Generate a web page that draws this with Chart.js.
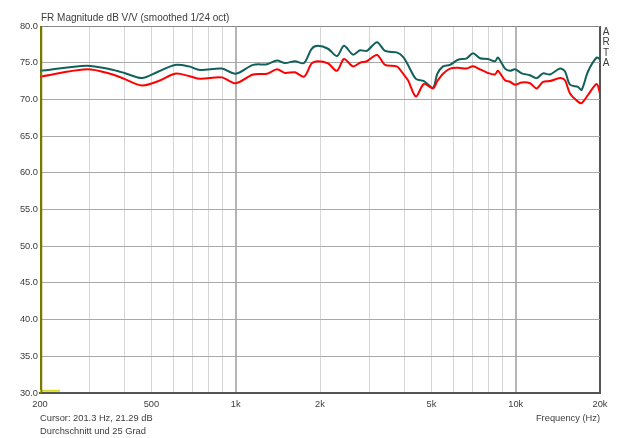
<!DOCTYPE html>
<html>
<head>
<meta charset="utf-8">
<script src="https://cdn.jsdelivr.net/npm/chart.js@4/dist/chart.umd.min.js"></script>
<style>
  html, body { margin: 0; padding: 0; background: #ffffff; overflow: hidden; }
  #wrap { width: 640px; height: 438px; position: relative; }
</style>
</head>
<body>
<div id="wrap"><canvas id="fr" width="640" height="438"></canvas></div>
<script>
const freqs = [200, 294, 356, 400, 462, 530, 607, 680, 746, 891, 1000, 1153, 1293, 1404, 1500, 1628, 1754, 1868, 1967,
  2136, 2300, 2436, 2624, 2780, 2938, 3196, 3414, 3758, 3960, 4124, 4400, 4700, 5066, 5250, 5500, 5825, 6222, 6682,
  7038, 7456, 7962, 8434, 8644, 9158, 9542, 9942, 10506, 11246, 11880, 12516, 13256, 14394, 14998, 15630, 16688,
  17200, 18120, 19460, 20000];
// Upper (teal) trace, dB
const tealDb = [73.9, 74.6, 74.1, 73.6, 72.9, 73.8, 74.7, 74.5, 74.0, 74.2, 73.5, 74.7, 74.8, 75.3, 74.95, 75.2, 74.95, 76.9, 77.3,
  76.9, 75.9, 77.3, 76.1, 76.7, 76.6, 77.8, 76.6, 76.4, 75.8, 74.7, 72.8, 72.5, 71.6, 73.5, 74.5, 74.7, 75.4, 75.6,
  76.3, 75.6, 75.5, 75.2, 75.7, 74.2, 73.9, 74.1, 73.55, 73.3, 72.9, 73.55, 73.4, 74.2, 73.8, 72.0, 71.7,
  71.3, 73.8, 75.7, 75.5];
// Lower (red) trace, dB
const redDb = [73.1, 74.1, 73.5, 72.8, 71.9, 72.5, 73.5, 73.2, 72.8, 73.0, 72.2, 73.4, 73.5, 74.1, 73.6, 73.7, 73.1, 74.9, 75.2,
  74.9, 73.9, 75.5, 74.5, 75.0, 75.2, 76.05, 74.7, 74.5, 73.5, 72.6, 70.4, 72.1, 71.5, 72.5, 73.5, 74.2, 74.3, 74.2,
  74.5, 74.1, 73.6, 73.4, 73.9, 72.6, 72.4, 72.0, 72.3, 72.2, 71.5, 72.4, 72.5, 72.9, 72.6, 70.8, 69.7,
  69.5, 70.6, 72.1, 70.8];
// Third trace, only visible along the bottom edge
const yellowFreqs = [200, 236];
const yellowDb = [30.3, 30.3];

const gridFreqs = [200, 300, 400, 500, 600, 700, 800, 900, 1000, 2000, 3000, 4000, 5000, 6000, 7000, 8000, 9000, 10000, 20000];
const labelFreqs = { 200: '200', 500: '500', 1000: '1k', 2000: '2k', 5000: '5k', 10000: '10k', 20000: '20k' };
const cursorFreq = 201.3;

const FONT = 'Liberation Sans, Arial, sans-serif';
const TEXT = '#3c3c3c';
const SMALL = 9.3;

function toPoints(xs, ys) {
  return xs.map((f, i) => ({ x: f, y: ys[i] }));
}

// draws title, cursor line and the captions around the plot
const artaDecor = {
  id: 'artaDecor',
  afterDatasetsDraw(chart) {
    const ctx = chart.ctx;
    const area = chart.chartArea;
    const xs = chart.scales.x;
    ctx.save();
    // cursor line
    const cx = Math.round(xs.getPixelForValue(cursorFreq)) + 0.5;
    ctx.strokeStyle = '#7a7a00';
    ctx.lineWidth = 1.5;
    ctx.beginPath();
    ctx.moveTo(cx, area.top);
    ctx.lineTo(cx, area.bottom);
    ctx.stroke();

    ctx.fillStyle = TEXT;
    ctx.textBaseline = 'middle';
    ctx.textAlign = 'left';
    ctx.font = '10px ' + FONT;
    ctx.fillText('FR Magnitude dB V/V (smoothed 1/24 oct)', 41, 18);
    ctx.font = SMALL + 'px ' + FONT;
    ctx.fillText('Cursor: 201.3 Hz, 21.29 dB', 40, 418);
    ctx.fillText('Durchschnitt und 25 Grad', 40, 431);
    ctx.textAlign = 'right';
    ctx.fillText('Frequency (Hz)', 600, 418);
    ctx.textAlign = 'center';
    ctx.font = '10px ' + FONT;
    ['A', 'R', 'T', 'A'].forEach((ch, i) => {
      ctx.fillText(ch, 606, 32 + i * 10.5);
    });
    ctx.restore();
  }
};

new Chart(document.getElementById('fr'), {
  type: 'line',
  data: {
    datasets: [
      {
        label: 'yellow',
        data: toPoints(yellowFreqs, yellowDb),
        borderColor: '#d8d820',
        borderWidth: 2,
        pointRadius: 0
      },
      {
        label: 'red',
        data: toPoints(freqs, redDb),
        borderColor: '#ff0000',
        borderWidth: 2,
        pointRadius: 0,
        tension: 0.3
      },
      {
        label: 'teal',
        data: toPoints(freqs, tealDb),
        borderColor: '#11605a',
        borderWidth: 2,
        pointRadius: 0,
        tension: 0.3
      }
    ]
  },
  options: {
    responsive: false,
    animation: false,
    devicePixelRatio: 1,
    layout: { padding: { left: 0, top: 26, right: 40, bottom: 0 } },
    plugins: {
      legend: { display: false },
      tooltip: { enabled: false }
    },
    scales: {
      x: {
        type: 'logarithmic',
        min: 200,
        max: 20000,
        afterBuildTicks: (scale) => {
          scale.ticks = gridFreqs.map(v => ({ value: v }));
        },
        afterFit: (scale) => { scale.height = 45; },
        ticks: {
          autoSkip: false,
          maxRotation: 0,
          padding: 6,
          color: TEXT,
          font: { family: FONT, size: SMALL },
          callback: (v) => labelFreqs[v] || ''
        },
        grid: {
          drawTicks: false,
          color: (c) => {
            const v = c.tick && c.tick.value;
            if (v === 20000) return '#555555';
            if (v === 1000 || v === 10000) return '#b4b4b4';
            return '#d6d6d6';
          },
          lineWidth: (c) => {
            const v = c.tick && c.tick.value;
            return (v === 1000 || v === 10000 || v === 20000) ? 2 : 1;
          }
        },
        border: { color: '#555555', width: 2 }
      },
      y: {
        min: 30,
        max: 80,
        afterFit: (scale) => { scale.width = 40; },
        ticks: {
          stepSize: 5,
          autoSkip: false,
          padding: 2,
          color: TEXT,
          font: { family: FONT, size: SMALL },
          callback: (v) => v.toFixed(1)
        },
        grid: {
          drawTicks: false,
          color: (c) => (c.tick && c.tick.value === 80) ? '#888888' : '#a8a8a8'
        },
        border: { color: '#7a7a00', width: 1 }
      }
    }
  },
  plugins: [artaDecor]
});
</script>
</body>
</html>
